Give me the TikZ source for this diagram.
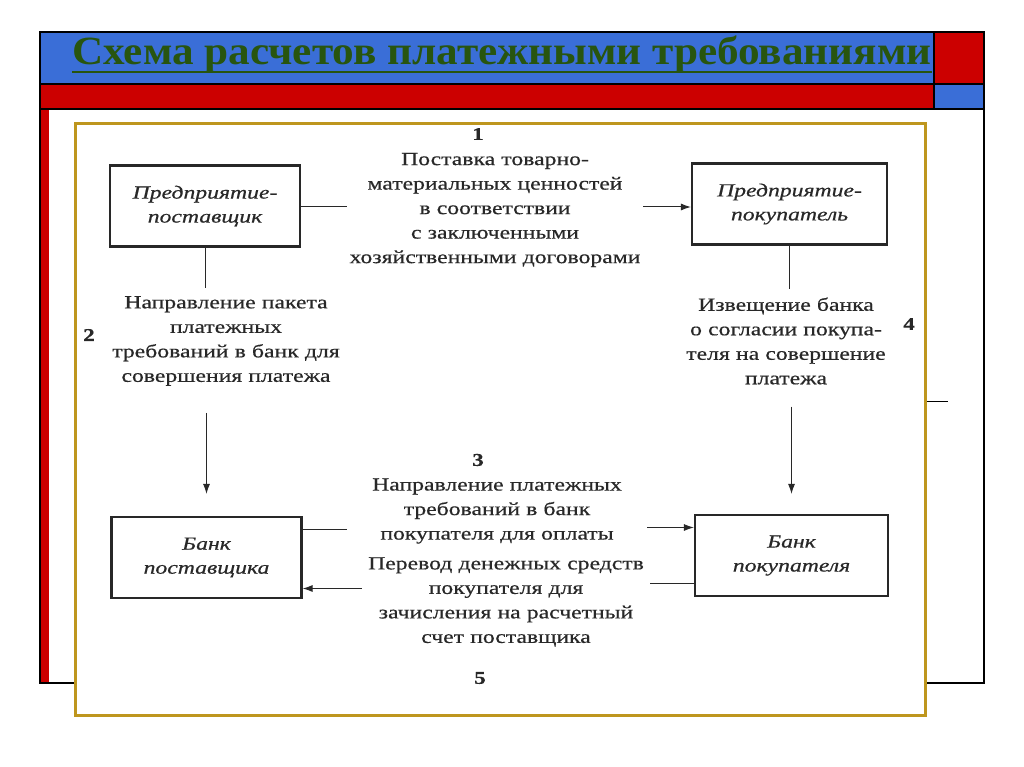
\documentclass[tikz,border=0pt]{standalone}
\usepackage{fontspec}
\setmainfont{Liberation Serif}
\newfontfamily\scanfont[FakeStretch=1.28,FakeBold=0.5]{Liberation Serif}
\newfontfamily\titlefont[FakeStretch=1.08]{Liberation Serif}
\usetikzlibrary{arrows.meta}
\definecolor{slideblue}{RGB}{58,110,215}
\definecolor{slidered}{RGB}{204,0,0}
\definecolor{titlegreen}{RGB}{40,85,15}
\definecolor{goldframe}{RGB}{190,150,30}
\definecolor{ink}{RGB}{40,40,40}
\begin{document}
\begin{tikzpicture}[x=1pt,y=-1pt,
  box/.style={draw=ink, line width=2.2pt, minimum width=190pt, minimum height=81pt, inner sep=0pt, align=center, font=\scanfont\itshape\fontsize{18.5}{24}\selectfont, text=ink},
  lbl/.style={align=center, font=\scanfont\fontsize{18.5}{24.5}\selectfont, text=ink, inner sep=0pt},
  num/.style={font=\scanfont\bfseries\fontsize{18}{20}\selectfont, text=ink, inner sep=0pt},
  conn/.style={draw=ink, line width=1pt},
  arr/.style={conn, -{Latex[length=10pt,width=7pt]}},
  frameline/.style={draw=black, line width=1.2pt}]
\useasboundingbox (0,0) rectangle (1024,767);
\fill[white] (0,0) rectangle (1024,767);
% slide decoration
\fill[slideblue] (40,32) rectangle (934,84);
\fill[slidered] (934,32) rectangle (984,84);
\fill[slidered] (40,84) rectangle (934,109);
\fill[slideblue] (934,84) rectangle (984,109);
\fill[slidered] (40,109) rectangle (49,683);
\draw[frameline] (40,32) rectangle (984,109);
\draw[frameline] (40,84) -- (984,84);
\draw[frameline] (934,32) -- (934,109);
\draw[frameline] (40,109) -- (40,683) -- (75,683);
\draw[frameline] (984,109) -- (984,683) -- (925,683);
\draw[frameline, line width=1pt] (925,401) -- (948,401);
% title
\node[anchor=base west, font=\titlefont\bfseries\fontsize{40}{40}\selectfont, text=titlegreen, inner sep=0pt] (title) at (72,65) {Схема расчетов платежными требованиями};
\draw[titlegreen, line width=2.6pt] ([yshift=-7pt]title.base west) -- ([yshift=-7pt]title.base east);
% picture frame
\draw[goldframe, line width=3pt, fill=white] (75,124) rectangle (925,715);
% boxes
\node[box] (b1) at (205,206) {Предприятие-\\поставщик};
\node[box, minimum width=195pt] (b2) at (789.5,204) {Предприятие-\\покупатель};
\node[box] (b3) at (206.5,557.5) {Банк\\поставщика};
\node[box, minimum width=193pt] (b4) at (791.5,555.5) {Банк\\покупателя};
% labels
\node[lbl, text width=296pt] (t1) at (495,210) {Поставка товарно-\\материальных ценностей\\в соответствии\\с заключенными\\хозяйственными договорами};
\node[lbl, text width=250pt] (t2) at (226,341) {Направление пакета\\платежных\\требований в банк для\\совершения платежа};
\node[lbl, text width=240pt] (t4) at (786,341) {Извещение банка\\о согласии покупа-\\теля на совершение\\платежа};
\node[lbl, text width=300pt] (t3) at (497,511) {Направление платежных\\требований в банк\\покупателя для оплаты};
\node[lbl, text width=288pt] (t5) at (506,602) {Перевод денежных средств\\покупателя для\\зачисления на расчетный\\счет поставщика};
% numbers
\node[num] (n1) at (478,134) {1};
\node[num] (n2) at (89,335) {2};
\node[num] (n3) at (478,460) {3};
\node[num] (n4) at (909,324) {4};
\node[num] (n5) at (480,678) {5};
% connectors
\coordinate (p1) at ([yshift=-1pt]b1.east);
\draw[conn] (p1) -- (p1 -| t1.west);
\coordinate (p2) at ([yshift=-3pt]b2.west);
\draw[arr] (p2 -| t1.east) -- (p2);
\draw[conn] (b1.south) -- ([yshift=8pt]b1.south |- t2.north);
\draw[arr, shorten >=22pt] (b3.north |- t2.south) ++(0,27) -- (b3.north);
\draw[conn] (b2.south) -- ([yshift=8pt]b2.south |- t4.north);
\draw[arr, shorten >=20pt] (b4.north |- t4.south) ++(0,22) -- (b4.north);
\coordinate (p3) at ([yshift=28pt]b3.east);
\draw[conn] (p3) -- (p3 -| t3.west);
\coordinate (p4) at ([yshift=28pt]b4.west);
\draw[arr] (p4 -| t3.east) -- (p4);
\coordinate (p5) at ([yshift=-28pt]b4.west);
\draw[conn] (p5) -- (p5 -| t5.east);
\coordinate (p6) at ([yshift=-31pt]b3.east);
\draw[arr] (p6 -| t5.west) -- (p6);
\end{tikzpicture}
\end{document}
